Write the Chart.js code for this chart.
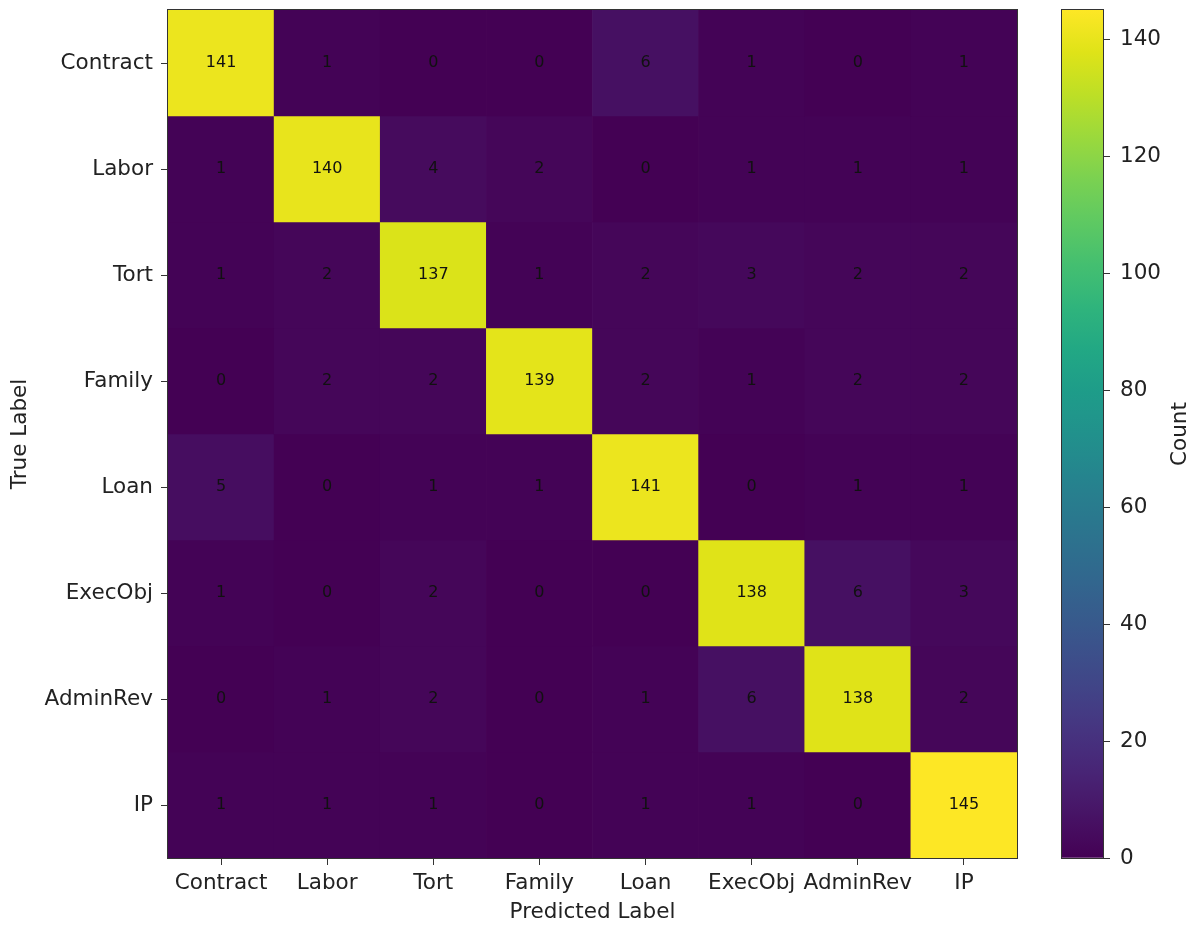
<!DOCTYPE html>
<html>
<head>
<meta charset="utf-8">
<script src="https://cdn.jsdelivr.net/npm/chart.js@4.4.1/dist/chart.umd.min.js"></script>
<style>
body { margin: 0; background: #fff; }
#wrap { position: relative; width: 1196px; height: 925px; }
#heat { position: absolute; left: 0; top: 0; }
#cbar { position: absolute; left: 1040px; top: 0; }
</style>
</head>
<body>
<div id="wrap">
  <canvas id="heat" width="1040" height="925"></canvas>
  <canvas id="cbar" width="156" height="925"></canvas>
</div>
<script>
// Categorias (linhas = true label, colunas = predicted label)
const labels = ['Contract', 'Labor', 'Tort', 'Family', 'Loan', 'ExecObj', 'AdminRev', 'IP']

// Valores da matriz de confusão, uma linha por classe verdadeira
const contractRow = [141, 1, 0, 0, 6, 1, 0, 1]
const laborRow    = [1, 140, 4, 2, 0, 1, 1, 1]
const tortRow     = [1, 2, 137, 1, 2, 3, 2, 2]
const familyRow   = [0, 2, 2, 139, 2, 1, 2, 2]
const loanRow     = [5, 0, 1, 1, 141, 0, 1, 1]
const execObjRow  = [1, 0, 2, 0, 0, 138, 6, 3]
const adminRevRow = [0, 1, 2, 0, 1, 6, 138, 2]
const ipRow       = [1, 1, 1, 0, 1, 1, 0, 145]

// Ticks da barra de cores
const colorbarTicks = [0, 20, 40, 60, 80, 100, 120, 140]

const matriz = [contractRow, laborRow, tortRow, familyRow, loanRow, execObjRow, adminRevRow, ipRow]
const vmax = Math.max(...matriz.flat())

// viridis
const viridisStops = ['#440154', '#471365', '#482475', '#463480', '#414487', '#3b528b', '#355f8d',
  '#2f6c8e', '#2a788e', '#25848e', '#21918c', '#1e9c89', '#22a884', '#2fb47c', '#44bf70',
  '#5ec962', '#7ad151', '#9bd93c', '#bddf26', '#dfe318', '#fde725']

function hexToRgb(h) {
  return [parseInt(h.slice(1, 3), 16), parseInt(h.slice(3, 5), 16), parseInt(h.slice(5, 7), 16)]
}

function viridis(t) {
  t = Math.min(1, Math.max(0, t))
  const pos = t * (viridisStops.length - 1)
  const i = Math.min(Math.floor(pos), viridisStops.length - 2)
  const f = pos - i
  const a = hexToRgb(viridisStops[i])
  const b = hexToRgb(viridisStops[i + 1])
  const c = a.map((v, k) => Math.round(v + (b[k] - v) * f))
  return `rgb(${c[0]},${c[1]},${c[2]})`
}

const fonte = { family: '"DejaVu Sans", sans-serif', size: 21.5 }
const corTexto = '#222'
const corTick = '#333'

// moldura (spines)
const moldura = {
  id: 'moldura',
  afterDraw(chart) {
    const { ctx, chartArea: a } = chart
    ctx.save()
    ctx.strokeStyle = corTick
    ctx.lineWidth = 1
    ctx.strokeRect(a.left - 0.5, a.top - 0.5, a.width + 1, a.height + 1)
    ctx.restore()
  }
}

// números dentro das células
const anotacoes = {
  id: 'anotacoes',
  afterDatasetsDraw(chart) {
    const { ctx } = chart
    ctx.save()
    ctx.font = '16px "DejaVu Sans", sans-serif'
    ctx.fillStyle = '#111'
    ctx.textAlign = 'center'
    ctx.textBaseline = 'middle'
    matriz.forEach((linha, i) => {
      chart.getDatasetMeta(i).data.forEach((bar, j) => {
        ctx.fillText(String(linha[j]), bar.x, (bar.y + bar.base) / 2)
      })
    })
    ctx.restore()
  }
}

const datasets = matriz.map((linha, i) => ({
  label: labels[i],
  data: linha.map(() => [i, i + 1]),
  backgroundColor: linha.map(v => viridis(v / vmax)),
  borderWidth: 0,
  barPercentage: 1,
  categoryPercentage: 1,
  grouped: false
}))

new Chart(document.getElementById('heat'), {
  type: 'bar',
  data: { labels: labels, datasets: datasets },
  options: {
    responsive: false,
    animation: false,
    layout: { padding: { top: 10, right: 23, left: 0, bottom: 0 } },
    plugins: { legend: { display: false }, tooltip: { enabled: false } },
    scales: {
      x: {
        grid: { offset: false, drawOnChartArea: false, tickLength: 7, tickColor: corTick },
        border: { display: false },
        afterFit: s => { s.height = 67; s.paddingLeft = 0; s.paddingRight = 0 },
        ticks: { font: fonte, color: corTexto, padding: 6, maxRotation: 0, autoSkip: false },
        title: { display: true, text: 'Predicted Label', font: fonte, color: corTexto, padding: { top: 0, bottom: 0 } }
      },
      y: {
        min: 0,
        max: labels.length,
        reverse: true,
        afterBuildTicks: ax => { ax.ticks = labels.map((_, i) => ({ value: i + 0.5 })) },
        afterFit: s => { s.width = 168; s.paddingTop = 0; s.paddingBottom = 0 },
        ticks: { callback: (v, i) => labels[i], font: fonte, color: corTexto, padding: 8, autoSkip: false },
        grid: { drawOnChartArea: false, tickLength: 7, tickColor: corTick },
        border: { display: false },
        title: { display: true, text: 'True Label', font: fonte, color: corTexto, padding: { top: 8, bottom: 0 } }
      }
    }
  },
  plugins: [anotacoes, moldura]
})

// título da barra de cores (rotacionado de baixo para cima)
const tituloCount = {
  id: 'tituloCount',
  afterDraw(chart) {
    const { ctx, chartArea: a } = chart
    ctx.save()
    ctx.font = '21.5px "DejaVu Sans", sans-serif'
    ctx.fillStyle = corTexto
    ctx.textAlign = 'center'
    ctx.textBaseline = 'middle'
    ctx.translate(140, (a.top + a.bottom) / 2)
    ctx.rotate(-Math.PI / 2)
    ctx.fillText('Count', 0, 0)
    ctx.restore()
  }
}

new Chart(document.getElementById('cbar'), {
  type: 'bar',
  data: {
    labels: ['Count'],
    datasets: [{
      data: [[0, vmax]],
      backgroundColor: c => {
        const chart = c.chart
        const y = chart.scales.y
        if (!chart.chartArea || !y) return viridis(0)
        const g = chart.ctx.createLinearGradient(0, y.getPixelForValue(0), 0, y.getPixelForValue(vmax))
        for (let k = 0; k <= 40; k++) g.addColorStop(k / 40, viridis(k / 40))
        return g
      },
      borderWidth: 0,
      barPercentage: 1,
      categoryPercentage: 1
    }]
  },
  options: {
    responsive: false,
    animation: false,
    layout: { padding: { left: 22, top: 10, bottom: 67, right: 0 } },
    plugins: { legend: { display: false }, tooltip: { enabled: false } },
    scales: {
      x: { display: false },
      y: {
        position: 'right',
        min: 0,
        max: vmax,
        afterBuildTicks: ax => { ax.ticks = colorbarTicks.map(v => ({ value: v })) },
        afterFit: s => { s.width = 93; s.paddingTop = 0; s.paddingBottom = 0 },
        ticks: { font: fonte, color: corTexto, padding: 10 },
        grid: { drawOnChartArea: false, tickLength: 7, tickColor: corTick },
        border: { display: false }
      }
    }
  },
  plugins: [moldura, tituloCount]
})
</script>
</body>
</html>
